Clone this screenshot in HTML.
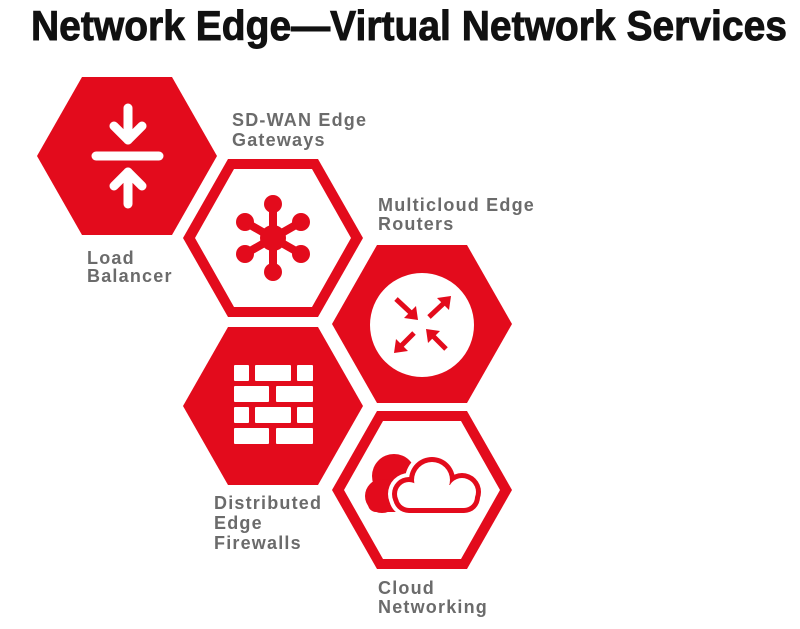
<!DOCTYPE html>
<html><head><meta charset="utf-8"><style>
html,body{margin:0;padding:0;background:#fff;}
svg{display:block}
.t{font-family:"Liberation Sans",sans-serif;font-weight:bold;}
.l{font-family:"Liberation Sans",sans-serif;font-weight:bold;font-size:18px;letter-spacing:1.2px;fill:#6b6b6b;}
</style></head><body>
<svg width="800" height="629" viewBox="0 0 800 629" xmlns="http://www.w3.org/2000/svg">
<text class="t" x="31" y="40" font-size="42" textLength="756" lengthAdjust="spacingAndGlyphs" fill="#111" stroke="#111" stroke-width="0.9">Network Edge—Virtual Network Services</text>
<defs>
<polygon id="hx" points="-90,0 -45,-79 45,-79 90,0 45,79 -45,79"/>
<polygon id="hxi" points="-78,0 -39,-69 39,-69 78,0 39,69 -39,69"/>
</defs>
<g fill="#e30b1c">
<use href="#hx" x="127" y="156"/>
<use href="#hx" x="273" y="238"/>
<use href="#hxi" x="273" y="238" fill="#fff"/>
<use href="#hx" x="422" y="324"/>
<use href="#hx" x="273" y="406"/>
<use href="#hx" x="422" y="490"/>
<use href="#hxi" x="422" y="490" fill="#fff"/>
</g>
<g stroke="#fff" stroke-width="9" stroke-linecap="round" stroke-linejoin="round" fill="none">
<line x1="96" y1="156" x2="159" y2="156"/>
<line x1="128" y1="108" x2="128" y2="140"/>
<polyline points="114,126 128,140 142,126"/>
<line x1="128" y1="204" x2="128" y2="172"/>
<polyline points="114,186 128,172 142,186"/>
</g>
<g fill="#e30b1c" stroke="#e30b1c" stroke-width="8">
<line x1="273" y1="238" x2="273" y2="204"/>
<line x1="273" y1="238" x2="273" y2="272"/>
<line x1="273" y1="238" x2="245" y2="222"/>
<line x1="273" y1="238" x2="301" y2="222"/>
<line x1="273" y1="238" x2="245" y2="254"/>
<line x1="273" y1="238" x2="301" y2="254"/>
</g>
<g fill="#e30b1c">
<circle cx="273" cy="238" r="13"/>
<circle cx="273" cy="204" r="9"/><circle cx="273" cy="272" r="9"/>
<circle cx="245" cy="222" r="9"/><circle cx="301" cy="222" r="9"/>
<circle cx="245" cy="254" r="9"/><circle cx="301" cy="254" r="9"/>
</g>
<circle cx="422" cy="325" r="52" fill="#fff"/>
<g stroke="#e30b1c" stroke-width="5" fill="none">
<line x1="396" y1="299" x2="411" y2="313"/>
<line x1="429" y1="317" x2="444" y2="303"/>
<line x1="414" y1="333" x2="400" y2="347"/>
<line x1="446" y1="349" x2="432" y2="335"/>
</g>
<g fill="#e30b1c">
<polygon points="418,320 404,318 416,306"/>
<polygon points="451,296 449,310 437,298"/>
<polygon points="394,353 396,339 408,351"/>
<polygon points="426,329 440,331 428,343"/>
</g>
<g fill="#fff">
<rect x="234" y="365" width="15" height="16" rx="1"/><rect x="255" y="365" width="36" height="16" rx="1"/><rect x="297" y="365" width="16" height="16" rx="1"/>
<rect x="234" y="386" width="35" height="16" rx="1"/><rect x="276" y="386" width="37" height="16" rx="1"/>
<rect x="234" y="407" width="15" height="16" rx="1"/><rect x="255" y="407" width="36" height="16" rx="1"/><rect x="297" y="407" width="16" height="16" rx="1"/>
<rect x="234" y="428" width="35" height="16" rx="1"/><rect x="276" y="428" width="37" height="16" rx="1"/>
</g>
<g fill="#e30b1c">
<circle cx="394" cy="476" r="22"/><circle cx="382" cy="496" r="17"/><rect x="368" y="485" width="45" height="27" rx="8"/>
</g>
<g fill="#fff">
<circle cx="409" cy="494" r="21"/><circle cx="432" cy="480" r="27"/><circle cx="462" cy="492" r="23"/><rect x="389" y="476" width="95" height="41" rx="20"/>
</g>
<g fill="#e30b1c">
<circle cx="409" cy="494" r="17"/><circle cx="432" cy="480" r="23"/><circle cx="462" cy="492" r="19"/><rect x="393" y="480" width="87" height="33" rx="16"/>
</g>
<g fill="#fff">
<circle cx="409" cy="494" r="12"/><circle cx="432" cy="480" r="18"/><circle cx="462" cy="492" r="14"/><rect x="398" y="485" width="77" height="23" rx="11"/>
</g>
<text class="l" x="232" y="126">SD-WAN Edge</text>
<text class="l" x="232" y="146">Gateways</text>
<text class="l" x="378" y="211">Multicloud Edge</text>
<text class="l" x="378" y="230">Routers</text>
<text class="l" x="87" y="264">Load</text>
<text class="l" x="87" y="282">Balancer</text>
<text class="l" x="214" y="509">Distributed</text>
<text class="l" x="214" y="529">Edge</text>
<text class="l" x="214" y="549">Firewalls</text>
<text class="l" x="378" y="594">Cloud</text>
<text class="l" x="378" y="613">Networking</text>
</svg>
</body></html>
